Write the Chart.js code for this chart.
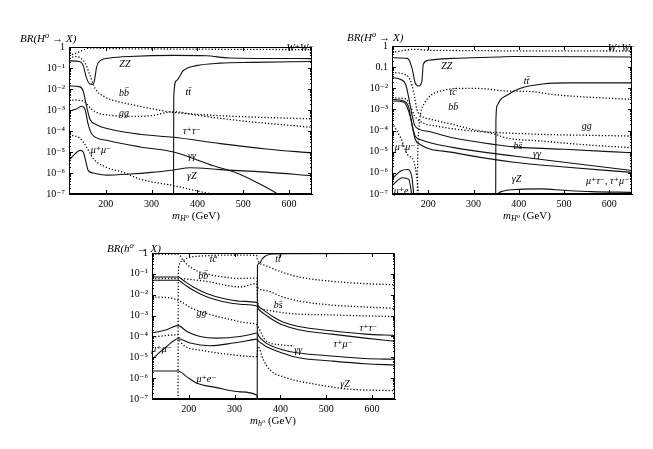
<!DOCTYPE html>
<html>
<head>
<meta charset="utf-8">
<script src="https://cdn.jsdelivr.net/npm/chart.js@4.4.1/dist/chart.umd.min.js"></script>
<style>
body{margin:0;background:#fff;width:653px;height:449px;overflow:hidden;position:relative}
canvas{position:absolute}
</style>
</head>
<body>
<canvas id="c1" width="330" height="225" style="left:0;top:0"></canvas>
<canvas id="c2" width="323" height="225" style="left:330px;top:0"></canvas>
<canvas id="c3" width="340" height="224" style="left:80px;top:225px"></canvas>
<script>
/* AXES */

const MASS_TICKS = [200,300,400,500,600];
const BR_TICKS = [1e-7,1e-6,1e-5,1e-4,1e-3,1e-2,1e-1,1];
const TICK_TEXT_A = ['1','10⁻¹','10⁻²','10⁻³','10⁻⁴','10⁻⁵','10⁻⁶','10⁻⁷'];
const TICK_TEXT_B = ['1','0.1','10⁻²','10⁻³','10⁻⁴','10⁻⁵','10⁻⁶','10⁻⁷'];

/* PANEL 1 : [mass, BR] */

const p1WW = [[120,0.4],[135,0.5],[150,0.7],[160,0.85],[170,0.9],[200,0.85],[350,0.8],[650,0.75]];
const p1ZZ = [[120,0.22],[144,0.2],[151,0.13],[158,0.035],[166,0.017],[173,0.017],[177,0.04],[180,0.107],[188,0.224],[209,0.3],[253,0.355],[348,0.4],[420,0.38],[470,0.3],[650,0.28]];
const p1bb = [[120,0.3],[135,0.35],[145,0.3],[155,0.17],[165,0.05],[177,0.0105],[198,4.2e-3],[227,2.5e-3],[257,1.8e-3],[300,1.15e-3],[345,7.8e-4],[400,6.2e-4],[500,4.8e-4],[650,3.8e-4]];
const p1gg = [[120,3e-3],[150,2.7e-3],[160,1.8e-3],[170,1.05e-3],[185,7e-4],[210,5.6e-4],[260,5e-4],[300,5.4e-4],[348,8.3e-4],[400,5.6e-4],[500,3e-4],[650,1.5e-4]];
const p1tt = [[348,1e-7],[348.5,4.6e-3],[354,0.0245],[369,0.074],[398,0.13],[449,0.17],[521,0.186],[650,0.204]];
const p1tautau = [[120,1.4e-2],[144,1.26e-2],[151,7.9e-3],[158,1.6e-3],[166,3.5e-4],[180,2e-4],[217,1.12e-4],[275,7e-5],[348,5e-5],[450,2.5e-5],[550,1.4e-5],[650,9e-6]];
const p1gamgam = [[120,8.7e-4],[137,1.15e-3],[148,1.5e-3],[155,1.05e-3],[162,2e-4],[170,7e-5],[202,3.6e-5],[275,1.74e-5],[348,1e-5],[435,2.2e-6],[486,1e-6],[530,3.5e-7],[575,1e-7],[585,7e-8]];
const p1mumu = [[120,4e-6],[130,6.9e-6],[144,1.2e-5],[151,1e-5],[157,3.3e-6],[162,1.3e-6],[173,1e-6],[202,7.9e-7],[253,8.9e-7],[300,1.07e-6],[348,1.4e-6],[384,1.78e-6],[450,1.45e-6],[550,1.1e-6],[650,7.4e-7]];
const p1gZ = [[120,6.5e-5],[144,4.5e-5],[158,1.74e-5],[173,4.8e-6],[202,1.86e-6],[238,1.07e-6],[275,5.1e-7],[348,2.5e-7],[400,1.4e-7],[440,9e-8]];
const p1Tags = [['ZZ',242,0.15],['bb\u0304',240,6e-3],['gg',240,7e-4],['tt\u0304',380,7e-3],['τ⁺τ⁻',388,9.3e-5],['γγ',388,6e-6],['μ⁺μ⁻',190,1.26e-5],['γZ',388,6.8e-7],['W⁺W⁻',624,0.85]];

/* PANEL 2 */

const p2WW = [[120,0.5],[150,0.63],[170,0.7],[200,0.63],[650,0.58]];
const p2ZZ = [[120,0.28],[154,0.26],[164,0.093],[171,0.0186],[179,0.0129],[186,0.022],[189,0.135],[200,0.21],[254,0.26],[354,0.3],[389,0.32],[650,0.3]];
const p2tt = [[349,1e-7],[349.5,3e-4],[352,1.5e-3],[360,3e-3],[370,4.2e-3],[390,7.5e-3],[411,0.0112],[453,0.016],[510,0.018],[650,0.018]];
const p2tc = [[176,1e-7],[177,1e-5],[179,1e-4],[183,6.3e-4],[192,2e-3],[204,4.3e-3],[232,7.9e-3],[275,0.01],[325,9.5e-3],[370,7.5e-3],[425,7e-3],[475,5.1e-3],[546,3.9e-3],[650,3e-3]];
const p2bb = [[120,0.056],[150,0.044],[160,0.025],[168,6.3e-3],[175,1e-3],[185,5e-4],[204,3.5e-4],[254,1.95e-4],[296,1.15e-4],[346,7e-5],[370,4.6e-5],[450,3.2e-5],[550,2.1e-5],[650,1.55e-5]];
const p2gg = [[120,3.5e-3],[150,3.2e-3],[160,1.6e-3],[170,5e-4],[185,2.5e-4],[220,1.6e-4],[280,1.05e-4],[340,8.3e-5],[360,7.9e-5],[450,6.6e-5],[550,6e-5],[650,5.5e-5]];
const p2bs = [[120,0.0316],[139,0.0263],[150,0.0155],[157,3.6e-3],[164,5.9e-4],[171,1.6e-4],[196,9.5e-5],[254,4.6e-5],[346,2.2e-5],[390,1.7e-5],[500,1.3e-5],[650,8.9e-6]];
const p2gamgam = [[120,3e-3],[146,2.5e-3],[157,1.26e-3],[164,2e-4],[171,5.5e-5],[182,3.8e-5],[254,1.6e-5],[389,6.3e-6],[500,3.2e-6],[650,1.3e-6]];
const p2mutau = [[120,2.5e-3],[146,2.2e-3],[160,5e-4],[171,4e-5],[182,2.2e-5],[254,9.3e-6],[389,3.2e-6],[500,1.9e-6],[650,1.05e-6]];
const p2mumu = [[120,2.3e-4],[139,4.6e-5],[154,7.4e-6],[168,3.6e-6],[175,5.9e-7],[179,9e-8]];
const p2mueA = [[120,5e-7],[139,1.23e-6],[154,1.45e-6],[164,5.9e-7],[168,9e-8]];
const p2mueB = [[120,2.5e-7],[143,5.9e-7],[157,4.9e-7],[164,9e-8]];
const p2gZ = [[349,9e-8],[360,1.26e-7],[400,1.66e-7],[450,1.74e-7],[500,1.5e-7],[560,1.3e-7],[650,1.2e-7]];
const p2Tags = [['ZZ',241,0.11],['tc\u0304',255,6.3e-3],['bb\u0304',255,1.2e-3],['μ⁺μ⁻',149,1.55e-5],['μ⁺e',140,1.4e-7],['tt\u0304',417,0.022],['gg',550,1.65e-4],['bs\u0304',398,1.86e-5],['γγ',440,7.4e-6],['γZ',395,4.9e-7],['μ⁺τ⁻, τ⁺μ⁻',596,4.1e-7],['W⁺W⁻',627,0.75]];

/* PANEL 3 */

const p3tt = [[349.5,1e-7],[350,0.25],[355,0.33],[360,0.5],[366,0.68],[372,0.8],[385,0.89],[420,0.93],[650,0.95]];
const p3tc = [[176.8,1e-7],[177,2e-4],[177.2,0.01],[178,0.2],[185,0.4],[196,0.56],[239,0.74],[300,0.8],[348,0.76],[350.5,0.45],[368,0.25],[404,0.12],[440,0.071],[512,0.044],[585,0.034],[650,0.03]];
const p3bb = [[120,0.89],[177,0.89],[188,0.44],[210,0.17],[239,0.1],[276,0.071],[312,0.06],[348,0.063],[351,0.022],[368,0.016],[404,8e-3],[440,5e-3],[512,3.2e-3],[585,2.6e-3],[650,2.2e-3]];
const p3bs = [[120,0.06],[177,0.06],[200,0.055],[246,0.041],[283,0.028],[312,0.0234],[348,0.034],[351,3.5e-3],[368,1.86e-3],[420,1.26e-3],[512,1.07e-3],[650,8.9e-4]];
const p3gg = [[120,7.9e-3],[166,6.6e-3],[181,5e-3],[203,2.5e-3],[239,1.26e-3],[283,7.1e-4],[326,4.5e-4],[348,3.7e-4],[351,3e-4],[368,6.3e-5],[400,4e-5],[430,3.5e-5]];
const p3tautau = [[120,0.071],[177,0.071],[188,0.049],[210,0.0234],[239,0.0115],[276,6.6e-3],[312,4.9e-3],[348,4.3e-3],[350,4e-3],[352,2.9e-3],[360,2.1e-3],[368,1.55e-3],[385,8.5e-4],[404,5.1e-4],[440,3e-4],[512,1.86e-4],[585,1.29e-4],[650,1.12e-4]];
const p3taumu = [[120,0.049],[177,0.049],[188,0.034],[210,0.0162],[239,7.9e-3],[276,4.6e-3],[312,3.5e-3],[348,2.9e-3],[350,2.7e-3],[352,2.1e-3],[360,1.45e-3],[368,1.07e-3],[385,6e-4],[404,3.6e-4],[440,2.1e-4],[512,1.29e-4],[585,8.3e-5],[650,5.9e-5]];
const p3gamgam = [[120,1.45e-4],[152,2.1e-4],[177,3.3e-4],[196,1.74e-4],[225,1e-4],[261,8.3e-5],[312,1e-4],[348,1.45e-4],[350,1.5e-4],[352,1.1e-4],[360,7e-5],[368,4.9e-5],[404,2.3e-5],[440,1.6e-5],[512,1.15e-5],[585,8.7e-6],[650,8e-6]];
const p3mumu = [[120,7.9e-6],[134,1.55e-5],[152,3.3e-5],[177,7.8e-5],[203,4.8e-5],[246,3.6e-5],[297,4.8e-5],[348,7.4e-5],[350,7.5e-5],[352,6e-5],[360,4.5e-5],[368,3.4e-5],[404,1.6e-5],[440,9.5e-6],[512,6.6e-6],[585,4.9e-6],[650,4.3e-6]];
const p3mue = [[120,2.2e-6],[177,2.2e-6],[196,1.15e-6],[217,5.9e-7],[261,3.5e-7],[312,2.2e-7],[349,1.5e-7],[349.8,9e-8]];
const p3gZ = [[120,9e-5],[150,1.1e-4],[177,1.2e-4],[181,5.8e-5],[225,2.2e-5],[297,1.3e-5],[349,1.07e-5],[351,3.3e-5],[363,7.4e-6],[377,2.5e-6],[411,1.07e-6],[476,5.1e-7],[548,3e-7],[650,2.5e-7]];
const p3Tags = [['tc\u0304',254,0.48],['tt\u0304',395,0.48],['bb\u0304',232,0.076],['bs\u0304',395,3.1e-3],['gg',228,1.3e-3],['τ⁺τ⁻',592,2.5e-4],['τ⁺μ⁻',537,4e-5],['γγ',439,2.05e-5],['γZ',541,4.8e-7],['μ⁺μ⁻',141,2.3e-5],['μ⁺e⁻',239,8.3e-7]];


/* DRAWING */

const SERIF = "'Liberation Serif','DejaVu Serif',serif";

function curve(pts, dotted){
return {
data: pts.map(p => ({x:p[0], y:p[1]})),
borderColor: dotted ? '#000' : '#111',
borderWidth: dotted ? 1.3 : 1.1,
borderDash: dotted ? [1.2,2] : [],
pointRadius:0,
fill:false,
cubicInterpolationMode:'monotone'
};
}

function drawMassTitle(ctx, cx, cy, sub){
ctx.font = 'italic 11px ' + SERIF;
let w1 = ctx.measureText('m').width;
ctx.font = 'italic 8px ' + SERIF;
let w2 = ctx.measureText(sub).width;
ctx.font = '11px ' + SERIF;
let w3 = ctx.measureText(' (GeV)').width;
let x0 = cx - (w1 + w2 + w3) / 2;
ctx.textAlign = 'left';
ctx.textBaseline = 'alphabetic';
ctx.font = 'italic 11px ' + SERIF;
ctx.fillText('m', x0, cy + 4);
ctx.font = 'italic 8px ' + SERIF;
ctx.fillText(sub, x0 + w1, cy + 6);
ctx.font = '11px ' + SERIF;
ctx.fillText(' (GeV)', x0 + w1 + w2, cy + 4);
}

function decorations(panel){
return {
id:'decor',
afterDraw(chart){
let ctx = chart.ctx, a = chart.chartArea;
let x = chart.scales.x, y = chart.scales.y;
ctx.save();
ctx.strokeStyle = '#000';
ctx.lineWidth = 1;
ctx.strokeRect(a.left + 0.5, a.top + 0.5, a.right - a.left - 1, a.bottom - a.top - 1);
ctx.beginPath();
MASS_TICKS.forEach(m => {
let px = Math.round(x.getPixelForValue(m)) + 0.5;
ctx.moveTo(px, a.bottom); ctx.lineTo(px, a.bottom - 4);
ctx.moveTo(px, a.top); ctx.lineTo(px, a.top + 4);
});
for(let e = -7; e < 0; e++){
for(let k = 1; k <= 9; k++){
let py = Math.round(y.getPixelForValue(k * Math.pow(10, e))) + 0.5;
let len = k === 1 ? 4 : 2;
ctx.moveTo(a.left, py); ctx.lineTo(a.left + len, py);
ctx.moveTo(a.right, py); ctx.lineTo(a.right - len, py);
}
}
ctx.stroke();

ctx.fillStyle = '#000';
ctx.font = 'italic 10px ' + SERIF;
ctx.textAlign = 'center';
ctx.textBaseline = 'middle';
panel.tags.forEach(t => {
ctx.fillText(t[0], x.getPixelForValue(t[1]), y.getPixelForValue(t[2]));
});

ctx.font = 'italic 11px ' + SERIF;
ctx.textAlign = 'left';
ctx.textBaseline = 'alphabetic';
ctx.fillText(panel.yTitle, panel.yTitleAt[0], panel.yTitleAt[1] + 4);
drawMassTitle(ctx, panel.xTitleAt[0], panel.xTitleAt[1], panel.sub);
ctx.restore();
}
};
}

let panels = [
{id:'c1', area:{left:69, right:312, top:47, bottom:194}, tickText:TICK_TEXT_A,
 yTitle:'BR(H⁰ → X)', yTitleAt:[20,38], xTitleAt:[196,215], sub:'H⁰',
 solid:[p1ZZ,p1tt,p1tautau,p1gamgam,p1mumu], dotted:[p1WW,p1bb,p1gg,p1gZ], tags:p1Tags},
{id:'c2', area:{left:62, right:302, top:46, bottom:194}, tickText:TICK_TEXT_B,
 yTitle:'BR(H⁰ → X)', yTitleAt:[17,37], xTitleAt:[197,215], sub:'H⁰',
 solid:[p2ZZ,p2tt,p2bs,p2gamgam,p2mutau,p2mueA,p2mueB,p2gZ], dotted:[p2WW,p2tc,p2bb,p2gg,p2mumu], tags:p2Tags},
{id:'c3', area:{left:72, right:315, top:28, bottom:174}, tickText:TICK_TEXT_A,
 yTitle:'BR(h⁰ → X)', yTitleAt:[27,23], xTitleAt:[193,195], sub:'h⁰',
 solid:[p3tt,p3tautau,p3taumu,p3gamgam,p3mumu,p3mue], dotted:[p3tc,p3bb,p3bs,p3gg,p3gZ], tags:p3Tags}
];

panels.forEach(panel => {

let canvas = document.getElementById(panel.id);
let W = canvas.width, H = canvas.height;
let datasets = panel.solid.map(c => curve(c, false)).concat(panel.dotted.map(c => curve(c, true)));
let tickFont = {family:SERIF, size:10};

new Chart(canvas, {
type:'line',
data:{datasets:datasets},
options:{
responsive:false,
animation:false,
devicePixelRatio:1,
layout:{padding:{left:0, top:panel.area.top, right:W - panel.area.right, bottom:0}},
plugins:{legend:{display:false}, tooltip:{enabled:false}},
scales:{
x:{
type:'linear', min:120, max:650,
afterFit(s){ s.height = H - panel.area.bottom; },
afterBuildTicks(s){ s.ticks = MASS_TICKS.map(v => ({value:v})); },
grid:{display:false, drawTicks:false, tickLength:0},
border:{display:true, color:'#000'},
ticks:{font:tickFont, color:'#000', padding:4, maxRotation:0, autoSkip:false}
},
y:{
type:'logarithmic', min:1e-7, max:1,
afterFit(s){ s.width = panel.area.left; },
afterBuildTicks(s){ s.ticks = BR_TICKS.map(v => ({value:v})); },
grid:{display:false, drawTicks:false, tickLength:0},
border:{display:true, color:'#000'},
ticks:{font:tickFont, color:'#000', padding:4, autoSkip:false,
 callback:(v) => panel.tickText[-Math.round(Math.log10(v))]}
}
}
},
plugins:[decorations(panel)]
});

});
</script>
</body>
</html>
